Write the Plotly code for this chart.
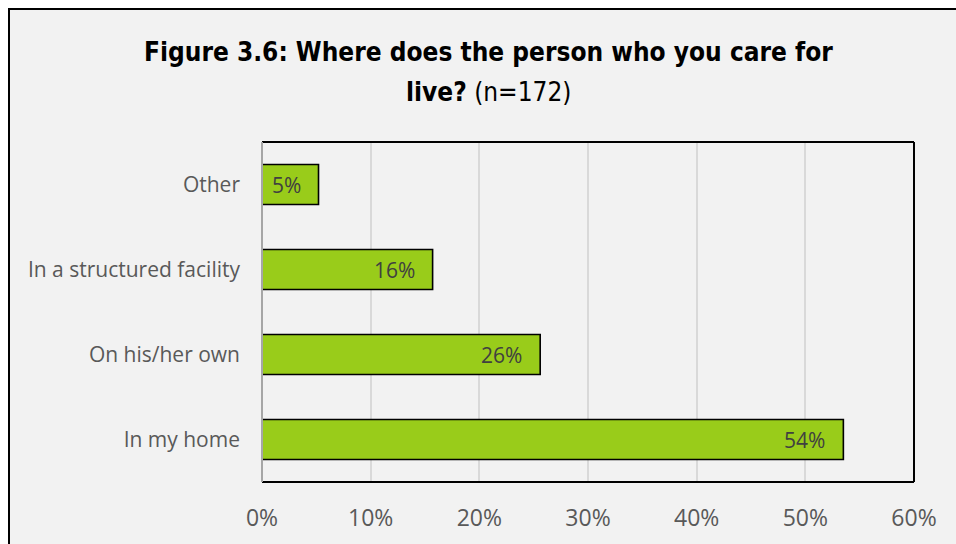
import plotly.graph_objects as go

categories = ["In my home", "On his/her own", "In a structured facility", "Other"]
values = [53.5, 25.6, 15.7, 5.2]
labels = ["54%", "26%", "16%", "5%"]
tick_vals = [0, 10, 20, 30, 40, 50, 60]
tick_text = ["0%", "10%", "20%", "30%", "40%", "50%", "60%"]

W, H = 956, 544
L, R, T, B = 262, 914, 142, 482

def px(x):
    return (x - L) / (R - L)

def py(y):
    return (B - y) / (B - T)

fig = go.Figure(go.Bar(
    x=values, y=categories, orientation="h",
    marker=dict(color="#99cc1a", line=dict(color="#000000", width=1.6)),
    width=0.47, hoverinfo="x+y",
))

annotations = [
    dict(x=v, y=c, xref="x", yref="y", text=t, showarrow=False,
         xanchor="right", yanchor="middle", xshift=-16,
         font=dict(family="Open Sans", size=21, color="#404040"))
    for v, c, t in zip(values, categories, labels)
]
annotations += [
    dict(xref="paper", yref="paper", x=px(488), y=py(52), xanchor="center", yanchor="middle",
         text="<b>Figure 3.6: Where does the person who you care for</b>",
         showarrow=False, font=dict(family="DejaVu Sans Condensed", size=26, color="#000000")),
    dict(xref="paper", yref="paper", x=px(488), y=py(92), xanchor="center", yanchor="middle",
         text="<b>live?</b> (n=172)",
         showarrow=False, font=dict(family="DejaVu Sans Condensed", size=26, color="#000000")),
]

fig.update_layout(
    width=W, height=H,
    margin=dict(l=L, r=W - R, t=T, b=H - B),
    paper_bgcolor="#ffffff", plot_bgcolor="#f2f2f2",
    showlegend=False,
    xaxis=dict(range=[0, 60], tickvals=tick_vals, ticktext=tick_text,
               showgrid=True, gridcolor="#d9d9d9", gridwidth=1.5,
               zeroline=False, showline=False, ticks="",
               ticklabelstandoff=20,
               tickfont=dict(family="Open Sans", size=23, color="#595959")),
    yaxis=dict(showgrid=False, zeroline=False, showline=False, ticks="",
               ticklabelstandoff=21,
               tickfont=dict(family="Open Sans", size=21, color="#595959")),
    shapes=[
        dict(type="rect", xref="paper", yref="paper", layer="below",
             x0=px(9), x1=px(970), y0=py(560), y1=py(9),
             fillcolor="#f2f2f2", line=dict(color="#000000", width=2)),
        dict(type="line", xref="paper", yref="paper", x0=0, x1=1, y0=1, y1=1,
             line=dict(color="#000000", width=2)),
        dict(type="line", xref="paper", yref="paper", x0=1, x1=1, y0=0, y1=1,
             line=dict(color="#000000", width=2)),
        dict(type="line", xref="paper", yref="paper", x0=0, x1=1, y0=0, y1=0,
             line=dict(color="#000000", width=2)),
        dict(type="line", xref="paper", yref="paper", x0=0, x1=0, y0=0, y1=1,
             line=dict(color="#a6a6a6", width=2)),
    ],
    annotations=annotations,
)

fig.write_html("out.html")
